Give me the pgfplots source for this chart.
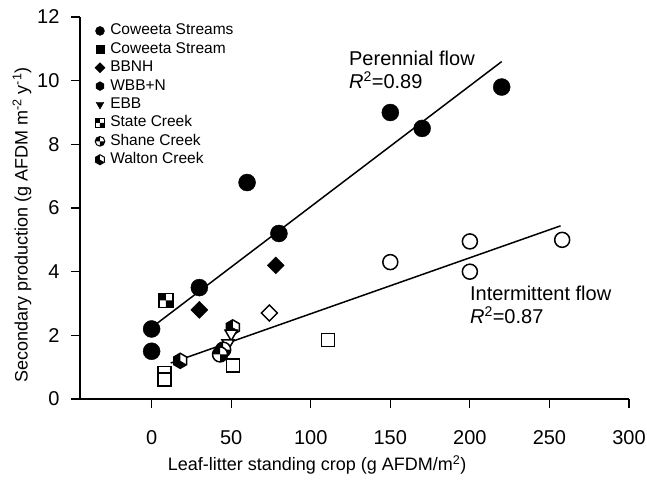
\documentclass[border=0pt]{standalone}
\usepackage{fontspec}
\setmainfont{Liberation Sans}
\usepackage{pgfplots}
\pgfplotsset{compat=1.18}

\pgfdeclareplotmark{mydiamond}{%
 \pgfpathmoveto{\pgfqpoint{0pt}{\pgfplotmarksize}}%
 \pgfpathlineto{\pgfqpoint{\pgfplotmarksize}{0pt}}%
 \pgfpathlineto{\pgfqpoint{0pt}{-\pgfplotmarksize}}%
 \pgfpathlineto{\pgfqpoint{-\pgfplotmarksize}{0pt}}%
 \pgfpathclose\pgfusepath{fill,stroke}}

\pgfdeclareplotmark{hexa}{%
 \pgfpathmoveto{\pgfqpoint{0pt}{\pgfplotmarksize}}%
 \pgfpathlineto{\pgfqpoint{0.866\pgfplotmarksize}{0.5\pgfplotmarksize}}%
 \pgfpathlineto{\pgfqpoint{0.866\pgfplotmarksize}{-0.5\pgfplotmarksize}}%
 \pgfpathlineto{\pgfqpoint{0pt}{-\pgfplotmarksize}}%
 \pgfpathlineto{\pgfqpoint{-0.866\pgfplotmarksize}{-0.5\pgfplotmarksize}}%
 \pgfpathlineto{\pgfqpoint{-0.866\pgfplotmarksize}{0.5\pgfplotmarksize}}%
 \pgfpathclose\pgfusepath{fill,stroke}}

\pgfdeclareplotmark{halfhex}{%
 \pgfpathmoveto{\pgfqpoint{0pt}{\pgfplotmarksize}}%
 \pgfpathlineto{\pgfqpoint{0.866\pgfplotmarksize}{0.5\pgfplotmarksize}}%
 \pgfpathlineto{\pgfqpoint{0.866\pgfplotmarksize}{-0.5\pgfplotmarksize}}%
 \pgfpathlineto{\pgfqpoint{0pt}{-\pgfplotmarksize}}%
 \pgfpathlineto{\pgfqpoint{-0.866\pgfplotmarksize}{-0.5\pgfplotmarksize}}%
 \pgfpathlineto{\pgfqpoint{-0.866\pgfplotmarksize}{0.5\pgfplotmarksize}}%
 \pgfpathclose\pgfusepath{fill}%
 \begin{pgfscope}\pgfsetfillcolor{black}%
 \pgfpathmoveto{\pgfqpoint{0pt}{\pgfplotmarksize}}%
 \pgfpathlineto{\pgfqpoint{-0.866\pgfplotmarksize}{0.5\pgfplotmarksize}}%
 \pgfpathlineto{\pgfqpoint{-0.866\pgfplotmarksize}{-0.5\pgfplotmarksize}}%
 \pgfpathlineto{\pgfqpoint{0pt}{-\pgfplotmarksize}}%
 \pgfpathclose
 \pgfpathmoveto{\pgfpointorigin}%
 \pgfpathlineto{\pgfqpoint{0.866\pgfplotmarksize}{-0.5\pgfplotmarksize}}%
 \pgfpathlineto{\pgfqpoint{0pt}{-\pgfplotmarksize}}%
 \pgfpathclose
 \pgfusepath{fill}\end{pgfscope}%
 \pgfpathmoveto{\pgfqpoint{0pt}{\pgfplotmarksize}}%
 \pgfpathlineto{\pgfqpoint{0.866\pgfplotmarksize}{0.5\pgfplotmarksize}}%
 \pgfpathlineto{\pgfqpoint{0.866\pgfplotmarksize}{-0.5\pgfplotmarksize}}%
 \pgfpathlineto{\pgfqpoint{0pt}{-\pgfplotmarksize}}%
 \pgfpathlineto{\pgfqpoint{-0.866\pgfplotmarksize}{-0.5\pgfplotmarksize}}%
 \pgfpathlineto{\pgfqpoint{-0.866\pgfplotmarksize}{0.5\pgfplotmarksize}}%
 \pgfpathclose\pgfusepath{stroke}}

\pgfdeclareplotmark{checksq}{%
 \pgfpathrectangle{\pgfqpoint{-\pgfplotmarksize}{-\pgfplotmarksize}}{\pgfqpoint{2\pgfplotmarksize}{2\pgfplotmarksize}}%
 \pgfusepath{fill}%
 \begin{pgfscope}\pgfsetfillcolor{black}%
 \pgfpathrectangle{\pgfqpoint{-\pgfplotmarksize}{0pt}}{\pgfqpoint{\pgfplotmarksize}{\pgfplotmarksize}}%
 \pgfpathrectangle{\pgfqpoint{0pt}{-\pgfplotmarksize}}{\pgfqpoint{\pgfplotmarksize}{\pgfplotmarksize}}%
 \pgfusepath{fill}\end{pgfscope}%
 \pgfpathrectangle{\pgfqpoint{-\pgfplotmarksize}{-\pgfplotmarksize}}{\pgfqpoint{2\pgfplotmarksize}{2\pgfplotmarksize}}%
 \pgfusepath{stroke}}

\pgfdeclareplotmark{quartcirc}{%
 \pgfpathcircle{\pgfpointorigin}{\pgfplotmarksize}\pgfusepath{fill}%
 \begin{pgfscope}\pgfsetfillcolor{black}%
 \pgfpathmoveto{\pgfpointorigin}\pgfpathlineto{\pgfqpoint{-\pgfplotmarksize}{0pt}}\pgfpatharc{180}{90}{\pgfplotmarksize}\pgfpathclose
 \pgfpathmoveto{\pgfpointorigin}\pgfpathlineto{\pgfqpoint{\pgfplotmarksize}{0pt}}\pgfpatharc{0}{-90}{\pgfplotmarksize}\pgfpathclose
 \pgfusepath{fill}\end{pgfscope}%
 \pgfpathcircle{\pgfpointorigin}{\pgfplotmarksize}\pgfusepath{stroke}}

\begin{document}
\begin{tikzpicture}
\useasboundingbox (-80pt,-81pt) rectangle (567pt,399pt);
\begin{axis}[
  scale only axis, width=549pt, height=382pt,
  xmin=-45, xmax=300, ymin=0, ymax=12,
  axis lines=left, axis line style={-, line width=1.2pt},
  xtick={0,50,...,300}, ytick={0,2,...,12},
  tick align=outside, major tick length=9pt,
  tick style={line width=1.2pt, black},
  /pgf/number format/assume math mode=true,
  ticklabel style={font=\fontsize{20}{24}\selectfont},
  xticklabel style={yshift=-19pt},
  yticklabel style={xshift=-8pt},
  xlabel={Leaf-litter standing crop (g AFDM/m\textsuperscript{2})},
  ylabel={Secondary production (g AFDM m\textsuperscript{-2} y\textsuperscript{-1})},
  label style={font=\fontsize{18}{22}\selectfont},
  xlabel style={at={(axis description cs:0.432,-0.173)}, anchor=center},
  ylabel style={at={(axis description cs:-0.1056,0.455)}, anchor=center},
  clip=false,
  legend style={at={(axis description cs:0.0264,0.985)}, anchor=north west,
    draw=none, fill=none, inner sep=0pt, row sep=2.4pt,
    font=\fontsize{15.5}{18}\selectfont,
    nodes={inner sep=1pt, text height=11pt, text depth=3pt},
    /tikz/every odd column/.append style={column sep=4pt}},
  legend cell align=left,
  legend image code/.code={\draw[#1] plot coordinates {(0pt,0pt)};},
]
\addlegendimage{only marks, mark=*, mark size=4.5pt, black}
\addlegendentry{Coweeta Streams}
\addlegendimage{only marks, mark=square*, mark size=4pt, black}
\addlegendentry{Coweeta Stream}
\addlegendimage{only marks, mark=mydiamond, mark size=5pt, black}
\addlegendentry{BBNH}
\addlegendimage{only marks, mark=hexa, mark size=4.5pt, black}
\addlegendentry{WBB+N}
\addlegendimage{only marks, mark=triangle*, mark size=4.5pt, black, mark options={rotate=180}}
\addlegendentry{EBB}
\addlegendimage{only marks, mark=checksq, mark size=4.5pt, mark options={draw=black, fill=white, line width=1pt}}
\addlegendentry{State Creek}
\addlegendimage{only marks, mark=quartcirc, mark size=4.8pt, mark options={draw=black, fill=white, line width=1pt}}
\addlegendentry{Shane Creek}
\addlegendimage{only marks, mark=halfhex, mark size=5pt, mark options={draw=black, fill=white, line width=1pt}}
\addlegendentry{Walton Creek}

% perennial flow
\addplot[only marks, mark=*, mark size=8.5pt, black, forget plot] coordinates {(0,2.2)(0,1.5)(30,3.5)(60,6.8)(80,5.2)(150,9.0)(170,8.5)(220,9.8)};
\addplot[only marks, mark=mydiamond, mark size=8.5pt, black, forget plot] coordinates {(30,2.8)(78,4.2)};
\addplot[only marks, mark=checksq, mark size=7pt, mark options={draw=black, fill=white, line width=1.5pt}, forget plot] coordinates {(9,3.1)};
% intermittent flow
\addplot[only marks, mark=*, mark size=7.5pt, mark options={draw=black, fill=white, line width=1.5pt}, forget plot] coordinates {(150,4.3)(200,4.95)(200,4.0)(258,5.0)};
\addplot[only marks, mark=mydiamond, mark size=8pt, mark options={draw=black, fill=white, line width=1.5pt}, forget plot] coordinates {(74,2.7)};
\addplot[only marks, mark=square*, mark size=6.5pt, mark options={draw=black, fill=white, line width=1.5pt}, forget plot] coordinates {(111,1.85)(51,1.05)(8,0.82)(8,0.62)};
\addplot[only marks, mark=halfhex, mark size=7.5pt, mark options={draw=black, fill=white, line width=1.5pt}, forget plot] coordinates {(51,2.25)(18,1.2)};
\addplot[only marks, mark=triangle*, mark size=7pt, mark options={draw=black, fill=white, line width=1.5pt, rotate=180}, forget plot] coordinates {(50,2.05)(48,1.75)};
\addplot[only marks, mark=quartcirc, mark size=7.5pt, mark options={draw=black, fill=white, line width=1.5pt}, forget plot] coordinates {(45,1.55)(43,1.4)};
% regression lines
\addplot[black, line width=1.5pt, no marks, forget plot] coordinates {(3,2.36)(220,10.6)};
\addplot[black, line width=1.5pt, no marks, forget plot] coordinates {(12,1.13)(257,5.44)};

\node[anchor=base west, inner sep=0pt, font=\fontsize{20}{24}\selectfont] at (axis cs:124,10.49) {Perennial flow};
\node[anchor=base west, inner sep=0pt, font=\fontsize{20}{24}\selectfont] at (axis cs:124,9.74) {\textit{R}\textsuperscript{2}=0.89};
\node[anchor=base west, inner sep=0pt, font=\fontsize{20}{24}\selectfont] at (axis cs:200,3.11) {Intermittent flow};
\node[anchor=base west, inner sep=0pt, font=\fontsize{20}{24}\selectfont] at (axis cs:200,2.36) {\textit{R}\textsuperscript{2}=0.87};
\end{axis}
\end{tikzpicture}
\end{document}
